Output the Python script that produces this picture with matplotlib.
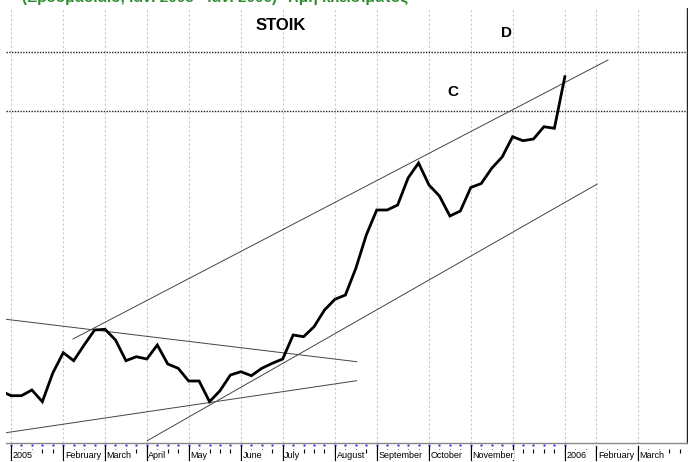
import numpy as np
import matplotlib
matplotlib.use("Agg")
import matplotlib.pyplot as plt
import matplotlib.transforms as mtransforms

plt.rcParams['font.family'] = ['Liberation Sans', 'DejaVu Sans']

# weekly closes, week 0 = first week of 2005
weeks = list(range(-1, 54))
close = [20.93, 20.43, 20.43, 21.0, 19.83, 22.7, 24.73, 23.93, 25.5, 27.0,
         27.07, 26.0, 23.93, 24.33, 24.1, 25.5, 23.6, 23.17, 21.9, 21.9,
         19.83, 20.93, 22.5, 22.83, 22.43, 23.17, 23.67, 24.1, 26.5, 26.33,
         27.33, 29.0, 30.07, 30.5, 33.17, 36.5, 39.0, 39.0, 39.5, 42.2,
         43.7, 41.5, 40.4, 38.4, 38.9, 41.25, 41.65, 43.17, 44.3, 46.33,
         45.93, 46.1, 47.33, 47.17, 52.33]

# month starts (week index) and labels
month_weeks = [0, 5, 9, 13, 17, 22, 26, 31, 35, 40, 44, 48, 53, 56, 60]
month_names = ['2005', 'February', 'March', 'April', 'May', 'June', 'July',
               'August', 'September', 'October', 'November', '', '2006',
               'February', 'March']

# trend lines: ((week, price), (week, price))
trend_lines = [
    ((5.93, 26.1), (57.13, 54.0)),     # upper channel
    ((13.04, 15.93), (56.1, 41.6)),    # lower channel
    ((-0.48, 28.07), (33.08, 23.83)),  # falling resistance
    ((-0.48, 16.73), (33.08, 21.93)),  # rising support
]
levels = {'D': 54.8, 'C': 48.9}
level_label_x = {'D': 47.4, 'C': 42.3}

fig = plt.figure(figsize=(6.88, 4.62), dpi=100)
ax = fig.add_axes([6 / 688, 19 / 462, 681 / 688, 435 / 462])
ax.set_xlim(-0.478, 64.69)
ax.set_ylim(15.7, 59.2)

# month grid
for m in month_weeks:
    ax.axvline(m, color='#c8c8c8', lw=0.8, ls=(0, (2, 2)), zorder=0)

for name, val in levels.items():
    ax.axhline(val, color='#222222', lw=1.0, ls=(0, (1, 1)), zorder=1)
    ax.text(level_label_x[name], val + 1.2, name, fontsize=11, fontweight='bold',
            ha='center', va='bottom')

for (x0, y0), (x1, y1) in trend_lines:
    ax.plot([x0, x1], [y0, y1], color='#444444', lw=0.7, zorder=2)

ax.plot(weeks, close, color='black', lw=2.0, zorder=3, solid_joinstyle='miter')

ax.text(25.8, 57.5, 'STOIK', fontsize=12, fontweight='bold', ha='center', va='center')

# axes frame
for s in ['top', 'left']:
    ax.spines[s].set_visible(False)
ax.spines['bottom'].set_color('#888888')
ax.spines['bottom'].set_linewidth(1.0)
ax.spines['right'].set_color('#222222')
ax.spines['right'].set_linestyle((0, (1, 1)))
ax.spines['right'].set_linewidth(1.0)
ax.set_xticks([])
ax.set_yticks([])

# weekly tick marks and month labels below the axis
tr = mtransforms.blended_transform_factory(ax.transData, ax.transAxes)
wk = np.arange(0, 65)
ax.plot(wk, np.full(len(wk), -0.019), ls='none', marker='|', ms=3, mew=0.8,
        color='black', transform=tr, clip_on=False)
dk = np.arange(0, 54)
ax.plot(dk, np.full(len(dk), -0.0046), ls='none', marker='s', ms=1.4, mew=0,
        color='#2020d0', transform=tr, clip_on=False)
for m, name in zip(month_weeks, month_names):
    if name:
        ax.text(m + 0.15, -0.028, name, fontsize=6.5, ha='left', va='center',
                transform=tr, clip_on=False,
                bbox=dict(facecolor='white', edgecolor='none', pad=0.3))
    ax.plot([m, m], [-0.008, -0.038], color='black', lw=0.9,
            transform=tr, clip_on=False)

fig.text(22 / 688, 1 - 2 / 462, '(Εβδομαδιαίο, Ιαν. 2005 - Ιαν. 2006)  Τιμή κλεισίματος',
         color='#2e8b2e', fontsize=11, fontweight='bold', ha='left', va='baseline')

fig.savefig('out.png', dpi=100)
